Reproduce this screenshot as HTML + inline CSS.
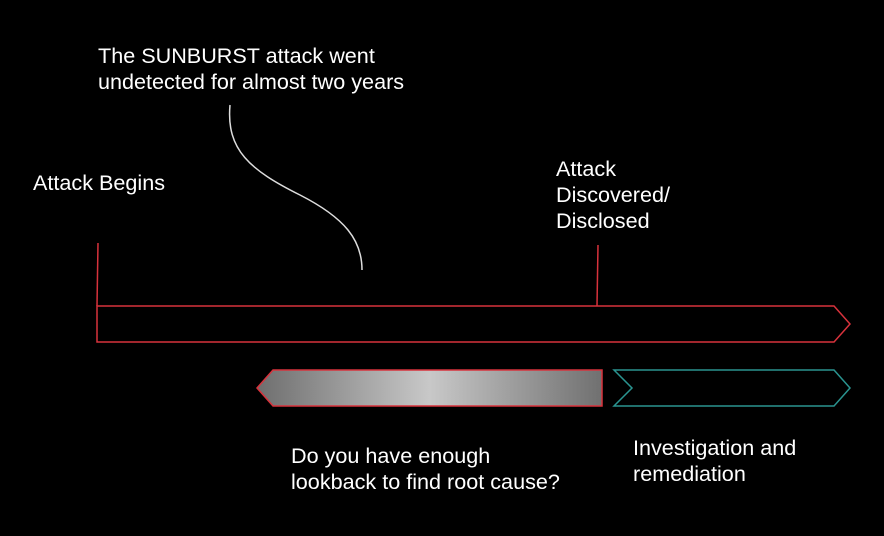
<!DOCTYPE html>
<html><head><style>
body{margin:0;width:884px;height:536px;background:#000;overflow:hidden;position:relative;font-family:"Liberation Sans",sans-serif;color:#fff}
.t{position:absolute;font-size:21.6px;line-height:26px;white-space:nowrap}
</style></head><body>
<svg width="884" height="536" style="position:absolute;left:0;top:0">
<defs><linearGradient id="g" x1="0" x2="1"><stop offset="0" stop-color="#6e6e6e"/><stop offset="0.5" stop-color="#c8c8c8"/><stop offset="1" stop-color="#707070"/></linearGradient></defs>
<path d="M230 105 C226 150 250 170 300 195 C345 218 362 240 362 270" fill="none" stroke="#ddd" stroke-width="1.5"/>
<line x1="98" y1="243" x2="97" y2="306" stroke="#d8323c" stroke-width="1.5"/>
<line x1="598" y1="245" x2="597" y2="306" stroke="#d8323c" stroke-width="1.5"/>
<path d="M97 306 L834 306 L850 324 L834 342 L97 342 Z" fill="none" stroke="#d8323c" stroke-width="1.5"/>
<path d="M273 370 L602 370 L602 406 L273 406 L257 388 Z" fill="url(#g)" stroke="#d8323c" stroke-width="1.5"/>
<path d="M614 370 L834 370 L850 388 L834 406 L614 406 L632 388 Z" fill="none" stroke="#2a9490" stroke-width="1.5"/>
</svg>
<div class="t" style="left:98px;top:43px">The SUNBURST attack went<br>undetected for almost two years</div>
<div class="t" style="left:33px;top:170px">Attack Begins</div>
<div class="t" style="left:556px;top:156px">Attack<br>Discovered/<br>Disclosed</div>
<div class="t" style="left:291px;top:443px">Do you have enough<br>lookback to find root cause?</div>
<div class="t" style="left:633px;top:435px">Investigation and<br>remediation</div>
</body></html>
